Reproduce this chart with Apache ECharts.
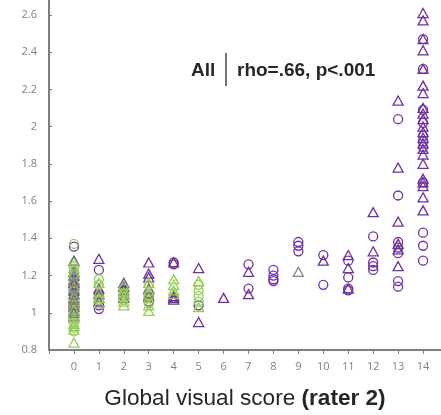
<!DOCTYPE html>
<html><head><meta charset="utf-8">
<script src="https://cdn.jsdelivr.net/npm/echarts@6/dist/echarts.min.js"></script>
<style>html,body{margin:0;padding:0;background:#fff}#c{width:441px;height:415px}</style>
</head><body><div id="c"></div>
<script>
// x = global visual score (rater 2), y = ratio value
const xTicks = [0,1,2,3,4,5,6,7,8,9,10,11,12,13,14];
const yTicks = [0.8,1,1.2,1.4,1.6,1.8,2,2.2,2.4,2.6];
const purpleCircles = [
  [0,1.355],[0,1.22],[0,1.15],[0,1.10],[0,1.05],[0,1.02],[0,1.00],
  [1,1.23],[1,1.10],[1,1.04],[1,1.02],
  [2,1.12],
  [3,1.10],[3,1.08],[3,1.06],
  [4,1.27],[4,1.26],[4,1.08],
  [5,1.04],
  [7,1.26],[7,1.13],
  [8,1.23],[8,1.20],[8,1.18],[8,1.17],
  [9,1.38],[9,1.36],[9,1.33],
  [10,1.31],[10,1.15],
  [11,1.28],[11,1.19],[11,1.13],[11,1.12],
  [12,1.41],[12,1.27],[12,1.25],[12,1.23],
  [13,2.04],[13,1.63],[13,1.38],[13,1.35],[13,1.32],[13,1.17],[13,1.14],
  [14,2.47],[14,2.31],[14,2.09],[14,2.02],[14,1.95],[14,1.92],[14,1.89],[14,1.70],[14,1.43],[14,1.36],[14,1.28]
];
const purpleTriangles = [
  [0,1.28],[0,1.22],[0,1.20],[0,1.18],[0,1.16],[0,1.15],[0,1.12],[0,1.10],[0,1.08],[0,1.06],[0,1.05],[0,1.03],[0,1.01],[0,0.98],
  [1,1.29],[1,1.13],[1,1.10],[1,1.08],[1,1.06],
  [2,1.16],[2,1.14],[2,1.12],[2,1.10],[2,1.08],
  [3,1.27],[3,1.21],[3,1.19],[3,1.13],[3,1.09],
  [4,1.27],[4,1.09],[4,1.08],[4,1.07],
  [5,1.24],[5,0.95],
  [6,1.08],
  [7,1.22],[7,1.10],
  [10,1.28],
  [11,1.31],[11,1.24],[11,1.13],
  [12,1.54],[12,1.33],
  [13,2.14],[13,1.78],[13,1.49],[13,1.37],[13,1.34],[13,1.25],
  [14,2.61],[14,2.57],[14,2.47],[14,2.41],[14,2.31],[14,2.22],[14,2.18],[14,2.10],[14,2.07],[14,2.04],
  [14,2.00],[14,1.97],[14,1.94],[14,1.91],[14,1.88],[14,1.85],[14,1.80],[14,1.72],[14,1.70],[14,1.68],
  [14,1.62],[14,1.55]
];
const greenCircles = [
  [0,1.37],[0,1.25],[0,1.20],[0,1.16],[0,1.12],[0,1.06],[0,1.03],[0,0.99],[0,0.95],[0,0.92],[0,0.90],
  [1,1.18],[1,1.15],[1,1.07],
  [2,1.13],[2,1.10],[2,1.07],
  [3,1.15],[3,1.09],[3,1.05],
  [5,1.15],[5,1.12],[5,1.09],[5,1.06]
];
const greenTriangles = [
  [0,1.27],[0,1.24],[0,1.21],[0,1.17],[0,1.14],[0,1.09],[0,1.05],[0,1.02],[0,0.99],[0,0.97],[0,0.94],[0,0.93],[0,0.91],[0,0.84],
  [1,1.16],[1,1.11],[1,1.08],[1,1.05],
  [2,1.15],[2,1.11],[2,1.09],[2,1.06],[2,1.04],
  [3,1.16],[3,1.12],[3,1.08],[3,1.04],[3,1.01],
  [4,1.18],[4,1.15],[4,1.12],[4,1.10],
  [5,1.17],[5,1.03]
];
const grayTriangles = [
  [0,1.20],[0,1.17],[0,1.13],[0,1.10],[0,1.07],[0,1.04],[0,1.00],
  [9,1.22]
];
const annotationLabel = 'All';
const annotationStat = 'rho=.66, p<.001';
const xName = 'Global visual score ';
const xNameBold = '(rater 2)';

const PURPLE = '#7030A0', GREEN = '#92D050', GRAY = '#808080';
function mk(data, color, symbol) {
  return {
    type: 'scatter', data: data, symbol: symbol,
    symbolSize: symbol === 'circle' ? 9 : [10, 9],
    itemStyle: { color: 'rgba(0,0,0,0)', borderColor: color, borderWidth: 1.3, opacity: 1 },
    emphasis: { disabled: true }, animation: false
  };
}
const chart = echarts.init(document.getElementById('c'), null, { renderer: 'canvas' });
chart.setOption({
  animation: false,
  grid: { left: 49, right: 0, top: 0, bottom: 65, containLabel: false },
  xAxis: {
    type: 'value', min: -1, max: 14.72, interval: 1,
    axisLine: { onZero: false, lineStyle: { color: '#7f7f7f', width: 2 } },
    axisTick: { show: true, length: 4, lineStyle: { color: '#7f7f7f', width: 1 } },
    axisLabel: {
      margin: 11, color: '#7f7f7f', fontSize: 11, fontFamily: 'Open Sans',
      showMaxLabel: false,
      formatter: v => xTicks.indexOf(v) >= 0 ? String(v) : ''
    },
    splitLine: { show: false },
    name: '{r|' + xName + '}{b|' + xNameBold + '}',
    nameLocation: 'middle', nameGap: 37,
    nameTextStyle: {
      rich: {
        r: { fontSize: 22.6, fontFamily: 'Liberation Sans', color: '#262626' },
        b: { fontSize: 22.6, fontFamily: 'Liberation Sans', fontWeight: 'bold', color: '#262626' }
      }
    }
  },
  yAxis: {
    type: 'value', min: 0.8, max: 2.68, interval: 0.2,
    axisLine: { show: true, onZero: false, lineStyle: { color: '#7f7f7f', width: 2 } },
    axisTick: { show: true, inside: true, length: 3, lineStyle: { color: '#7f7f7f', width: 1 } },
    axisLabel: {
      margin: 12, color: '#7f7f7f', fontSize: 11, fontFamily: 'Open Sans',
      showMaxLabel: false,
      formatter: v => yTicks.some(t => Math.abs(t - v) < 1e-6) ? String(+v.toFixed(1)) : ''
    },
    splitLine: { show: false }
  },
  series: [
    mk(purpleCircles, PURPLE, 'circle'),
    mk(purpleTriangles, PURPLE, 'triangle'),
    mk(greenCircles, GREEN, 'circle'),
    mk(greenTriangles, GREEN, 'triangle'),
    mk(grayTriangles, GRAY, 'triangle')
  ],
  graphic: [
    { type: 'text', left: 191, top: 61, style: { text: annotationLabel, fontSize: 19, fontWeight: 'bold', fontFamily: 'Liberation Sans', fill: '#262626' } },
    { type: 'line', shape: { x1: 226, y1: 53, x2: 226, y2: 86 }, style: { stroke: '#262626', lineWidth: 1.3 } },
    { type: 'text', left: 237, top: 61, style: { text: annotationStat, fontSize: 19, fontWeight: 'bold', fontFamily: 'Liberation Sans', fill: '#262626' } }
  ]
});
</script></body></html>
